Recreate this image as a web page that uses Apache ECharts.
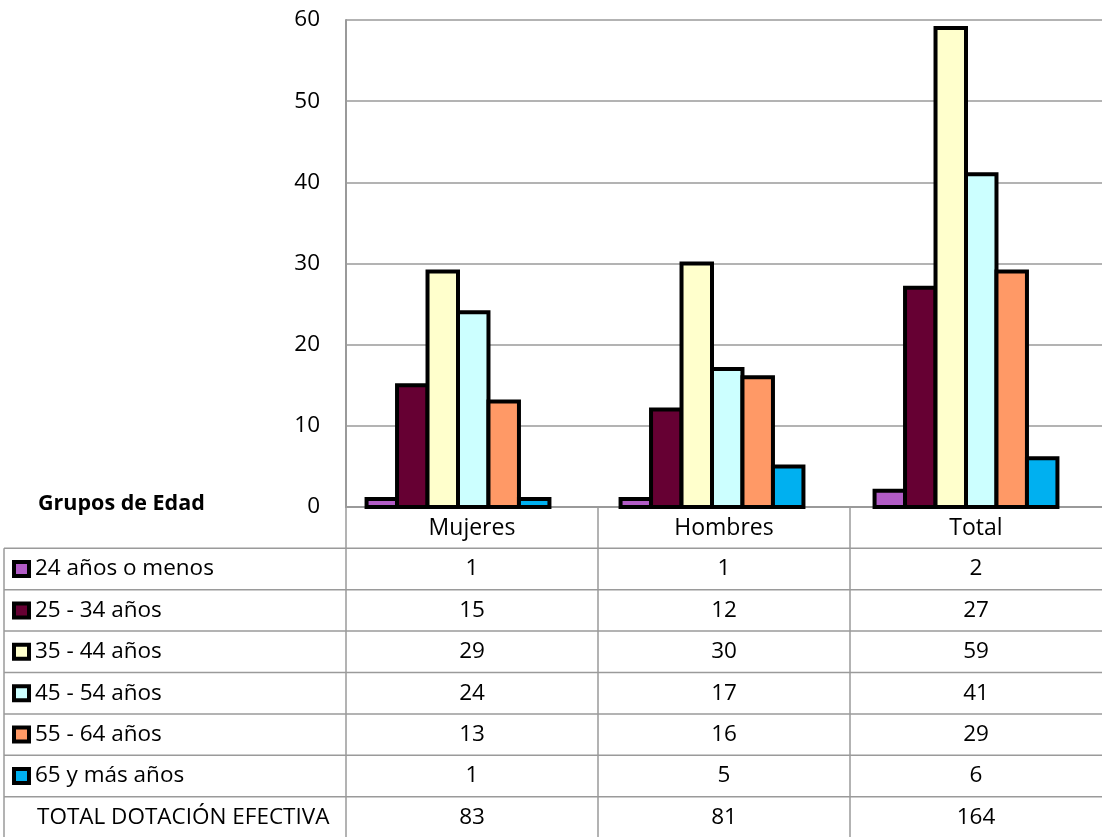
<!DOCTYPE html>
<html>
<head>
<meta charset="utf-8">
<script src="https://cdn.jsdelivr.net/npm/echarts@6/dist/echarts.min.js"></script>
<style>
html,body{margin:0;padding:0;background:#fff;}
#chart{width:1102px;height:837px;}
</style>
</head>
<body>
<div id="chart"></div>
<script>
// ---- data ----
const categories = ['Mujeres', 'Hombres', 'Total'];
const seriesNames = ['24 años o menos', '25 - 34 años', '35 - 44 años', '45 - 54 años', '55 - 64 años', '65 y más años'];
const s24menos = [1, 1, 2];
const s25_34 = [15, 12, 27];
const s35_44 = [29, 30, 59];
const s45_54 = [24, 17, 41];
const s55_64 = [13, 16, 29];
const s65mas = [1, 5, 6];
const totalLabel = 'TOTAL DOTACIÓN EFECTIVA';
const totalRow = [83, 81, 164];
const tableTitle = 'Grupos de Edad';
const yTicks = [0, 10, 20, 30, 40, 50, 60];

const seriesData = [s24menos, s25_34, s35_44, s45_54, s55_64, s65mas];
const colors = ['#B25CC6', '#660033', '#FFFFCC', '#CCFFFF', '#FF9966', '#00B0F0'];

const FONT = '"Open Sans"';
const FS = 22.5;
const LINE = '#9a9a9a';
const GROUP_FRACTION = 0.72;   // share of a category band covered by its bar group
const BAR_BORDER = 4;

const chart = echarts.init(document.getElementById('chart'), null, {renderer: 'canvas'});

function makeRenderItem(seriesIdx, nSeries) {
  return function (params, api) {
    const cat = api.value(0);
    const top = api.coord([cat, api.value(1)]);
    const base = api.coord([cat, 0]);
    const band = api.size([1, 0])[0];
    const groupW = band * GROUP_FRACTION;
    const barW = groupW / nSeries;
    const x = top[0] - groupW / 2 + seriesIdx * barW;
    return {
      type: 'rect',
      shape: {x: x, y: top[1], width: barW, height: base[1] - top[1]},
      style: {fill: colors[seriesIdx], stroke: '#000', lineWidth: BAR_BORDER}
    };
  };
}

const option = {
  animation: false,
  backgroundColor: '#fff',
  grid: [
    {left: 346, width: 762, top: 20, bottom: 330, containLabel: false},
    {left: 331, width: 762, top: 20, bottom: 330, containLabel: false}
  ],
  xAxis: [
    {
      type: 'category', gridIndex: 0, data: categories,
      axisLine: {show: true, lineStyle: {color: LINE, width: 2}},
      axisTick: {show: false},
      axisLabel: {show: true, color: '#000', fontFamily: FONT, fontSize: FS + 0.5, margin: 21, verticalAlign: 'middle'},
      splitLine: {show: false}
    },
    {
      type: 'category', gridIndex: 1, data: categories,
      axisLine: {show: false}, axisTick: {show: false}, axisLabel: {show: false}
    }
  ],
  yAxis: [
    {
      type: 'value', gridIndex: 0, min: yTicks[0], max: yTicks[yTicks.length - 1], interval: 10,
      axisLine: {show: true, lineStyle: {color: LINE, width: 2}},
      axisTick: {show: false},
      axisLabel: {color: '#000', fontFamily: FONT, fontSize: FS, margin: 26},
      splitLine: {show: true, lineStyle: {color: LINE, width: 1.5}}
    },
    {
      type: 'value', gridIndex: 1, min: yTicks[0], max: yTicks[yTicks.length - 1], interval: 10,
      axisLine: {show: false}, axisTick: {show: false}, axisLabel: {show: false}, splitLine: {show: false}
    }
  ],
  series: seriesNames.map((name, i) => ({
    name: name,
    type: 'custom',
    xAxisIndex: 1,
    yAxisIndex: 1,
    clip: false,
    encode: {x: 0, y: 1},
    data: seriesData[i].map((v, j) => [j, v]),
    renderItem: makeRenderItem(i, seriesNames.length)
  }))
};
chart.setOption(option);

// ---- data table below the plot ----
const baseY = chart.convertToPixel({yAxisIndex: 0}, 0);
const x0 = chart.convertToPixel({xAxisIndex: 0}, categories[0]);
const x1 = chart.convertToPixel({xAxisIndex: 0}, categories[1]);
const band = x1 - x0;
const colCenters = categories.map(c => chart.convertToPixel({xAxisIndex: 0}, c));
const colBounds = [x0 - band / 2, x0 + band / 2, x1 + band / 2, colCenters[2] + band / 2];
const HEADER_H = 41.3;
const ROW_H = 41.4;
const TABLE_LEFT = 4;
const rowTop0 = baseY + HEADER_H;
const rows = seriesNames.map((n, i) => ({label: n, color: colors[i], vals: seriesData[i]}));
rows.push({label: totalLabel, color: null, vals: totalRow});

const g = [];
const lineStyle = {stroke: LINE, lineWidth: 1.5};
for (let i = 0; i <= rows.length; i++) {
  const y = rowTop0 + i * ROW_H;
  g.push({type: 'line', shape: {x1: TABLE_LEFT, y1: y, x2: 1102, y2: y}, style: lineStyle, silent: true});
}
g.push({type: 'line', shape: {x1: TABLE_LEFT, y1: rowTop0, x2: TABLE_LEFT, y2: 837}, style: lineStyle});
for (let k = 0; k < 3; k++) {
  const x = colBounds[k];
  g.push({type: 'line', shape: {x1: x, y1: baseY, x2: x, y2: 837}, style: lineStyle});
}
rows.forEach((r, i) => {
  const cy = rowTop0 + i * ROW_H + ROW_H / 2;
  if (r.color) {
    g.push({type: 'rect', shape: {x: 14, y: cy - 7, width: 15, height: 14},
      style: {fill: r.color, stroke: '#000', lineWidth: 4}});
  }
  g.push({type: 'text', x: r.color ? 35 : 37, y: cy,
    style: {text: r.label, fill: '#000', font: FS + 'px ' + FONT, verticalAlign: 'middle'}});
  r.vals.forEach((v, j) => {
    g.push({type: 'text', x: colCenters[j], y: cy,
      style: {text: String(v), fill: '#000', font: FS + 'px ' + FONT, align: 'center', verticalAlign: 'middle'}});
  });
});
g.push({type: 'text', x: 38, y: baseY - 3,
  style: {text: tableTitle, fill: '#000', font: 'bold ' + (FS - 1) + 'px ' + FONT, verticalAlign: 'middle'}});

chart.setOption({graphic: g});
</script>
</body>
</html>
